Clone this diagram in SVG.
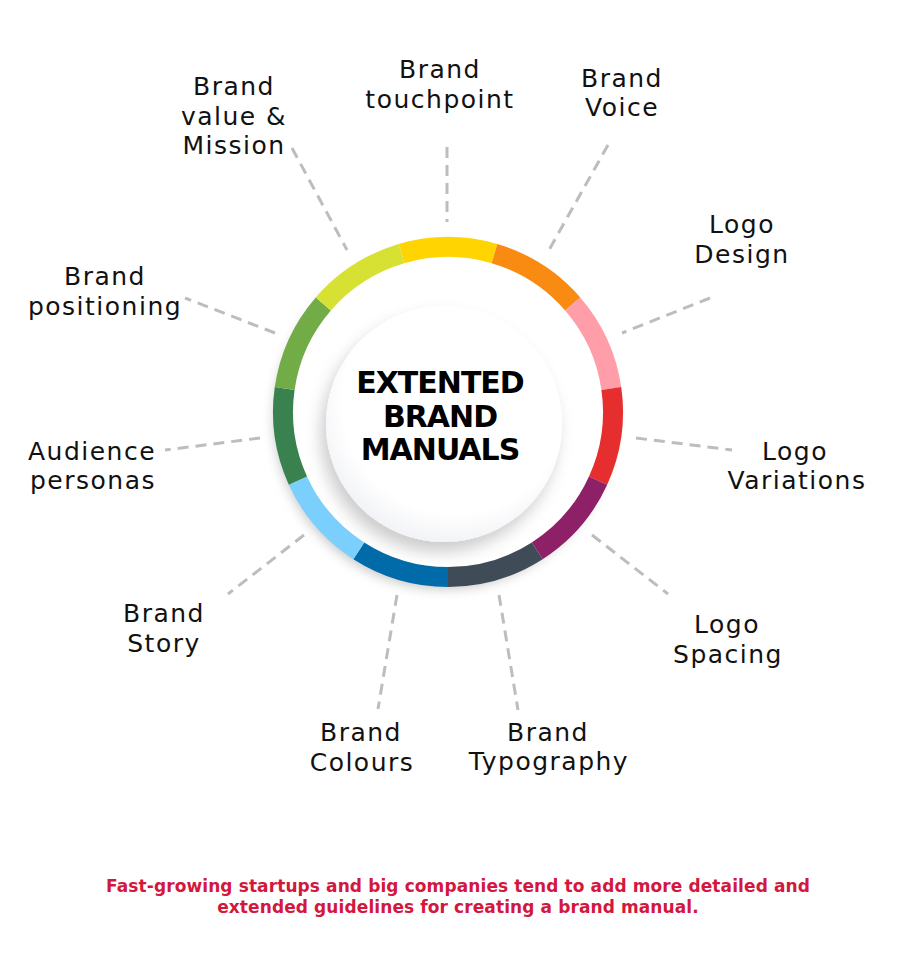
<svg xmlns="http://www.w3.org/2000/svg" width="900" height="961" viewBox="0 0 900 961">
<defs>
<style>
.lbl{font-family:"DejaVu Sans","Liberation Sans",sans-serif;font-size:25px;letter-spacing:1.5px;fill:#111;text-anchor:middle}
.ttl{font-family:"DejaVu Sans","Liberation Sans",sans-serif;font-weight:bold;font-size:30px;letter-spacing:-1px;fill:#000;text-anchor:middle}
.foot{font-family:"DejaVu Sans","Liberation Sans",sans-serif;font-weight:bold;font-size:17px;letter-spacing:0.1px;fill:#d3173d;text-anchor:middle}
.dash{stroke:#bdbdbd;stroke-width:3;stroke-dasharray:11 7;fill:none}
.seg{fill:none;stroke-width:20}
</style>
<filter id="ringShadow" x="-30%" y="-30%" width="160%" height="160%">
<feDropShadow dx="-4" dy="7" stdDeviation="6" flood-color="#000" flood-opacity="0.22"/>
</filter>
<filter id="plateShadow" x="-30%" y="-30%" width="160%" height="160%">
<feDropShadow dx="-5" dy="10" stdDeviation="8" flood-color="#000" flood-opacity="0.2"/>
</filter>
<radialGradient id="plateGrad" cx="0.55" cy="0.4" r="0.6">
<stop offset="0.8" stop-color="#ffffff"/>
<stop offset="1" stop-color="#f3f4f7"/>
</radialGradient>
</defs>
<rect width="900" height="961" fill="#fff"/>

<g id="connectors">
<line class="dash" x1="292" y1="148" x2="347" y2="250"/>
<line class="dash" x1="447" y1="147" x2="447" y2="222"/>
<line class="dash" x1="608" y1="145" x2="549" y2="250"/>
<line class="dash" x1="710" y1="298" x2="622" y2="333"/>
<line class="dash" x1="636" y1="438" x2="732" y2="450"/>
<line class="dash" x1="592" y1="535" x2="668" y2="594"/>
<line class="dash" x1="499" y1="595" x2="518" y2="710"/>
<line class="dash" x1="397" y1="595" x2="378" y2="709"/>
<line class="dash" x1="304" y1="535" x2="228" y2="594"/>
<line class="dash" x1="260" y1="438" x2="165" y2="450"/>
<line class="dash" x1="275" y1="333" x2="185" y2="298"/>
</g>

<g id="hub">
<circle cx="448" cy="412" r="170" fill="#fff" filter="url(#ringShadow)"/>
<g id="ring">
<path class="seg" stroke="#FFD400" d="M401.52 253.68 A165 165 0 0 1 494.48 253.68"/>
<path class="seg" stroke="#F98A12" d="M494.48 253.68 A165 165 0 0 1 572.69 303.94"/>
<path class="seg" stroke="#FF9EA8" d="M572.69 303.94 A165 165 0 0 1 611.32 388.52"/>
<path class="seg" stroke="#E52E2D" d="M611.32 388.52 A165 165 0 0 1 598.08 480.54"/>
<path class="seg" stroke="#8E2067" d="M598.08 480.54 A165 165 0 0 1 537.20 550.81"/>
<path class="seg" stroke="#3F4B57" d="M537.20 550.81 A165 165 0 0 1 448 577"/>
<path class="seg" stroke="#006BA8" d="M448 577 A165 165 0 0 1 358.80 550.81"/>
<path class="seg" stroke="#7BCFFD" d="M358.80 550.81 A165 165 0 0 1 297.92 480.54"/>
<path class="seg" stroke="#3A8150" d="M297.92 480.54 A165 165 0 0 1 284.68 388.52"/>
<path class="seg" stroke="#71AC46" d="M284.68 388.52 A165 165 0 0 1 323.31 303.94"/>
<path class="seg" stroke="#D7E133" d="M323.31 303.94 A165 165 0 0 1 401.52 253.68"/>
</g>
<circle cx="444" cy="424" r="118" fill="url(#plateGrad)" filter="url(#plateShadow)"/>
<text class="ttl" x="440" y="393">EXTENTED</text>
<text class="ttl" x="440" y="427">BRAND</text>
<text class="ttl" x="440" y="460">MANUALS</text>
</g>

<g id="n-value-mission"><text class="lbl" x="234" y="95">Brand</text><text class="lbl" x="234" y="124.5">value &amp;</text><text class="lbl" x="234" y="154">Mission</text></g>
<g id="n-touchpoint"><text class="lbl" x="440" y="78">Brand</text><text class="lbl" x="440" y="108">touchpoint</text></g>
<g id="n-voice"><text class="lbl" x="622" y="87">Brand</text><text class="lbl" x="622" y="116">Voice</text></g>
<g id="n-logo-design"><text class="lbl" x="742" y="233">Logo</text><text class="lbl" x="742" y="263">Design</text></g>
<g id="n-logo-variations"><text class="lbl" x="795" y="460">Logo</text><text class="lbl" x="797" y="489">Variations</text></g>
<g id="n-logo-spacing"><text class="lbl" x="727" y="633">Logo</text><text class="lbl" x="728" y="663">Spacing</text></g>
<g id="n-typography"><text class="lbl" x="548" y="741">Brand</text><text class="lbl" x="549" y="770">Typography</text></g>
<g id="n-colours"><text class="lbl" x="361" y="741">Brand</text><text class="lbl" x="362" y="771">Colours</text></g>
<g id="n-story"><text class="lbl" x="164" y="622">Brand</text><text class="lbl" x="164" y="652">Story</text></g>
<g id="n-audience"><text class="lbl" x="92" y="460">Audience</text><text class="lbl" x="93" y="489">personas</text></g>
<g id="n-positioning"><text class="lbl" x="105" y="285">Brand</text><text class="lbl" x="105" y="315">positioning</text></g>

<g id="footnote">
<text class="foot" x="458" y="892">Fast-growing startups and big companies tend to add more detailed and</text>
<text class="foot" x="458" y="913">extended guidelines for creating a brand manual.</text>
</g>
</svg>
